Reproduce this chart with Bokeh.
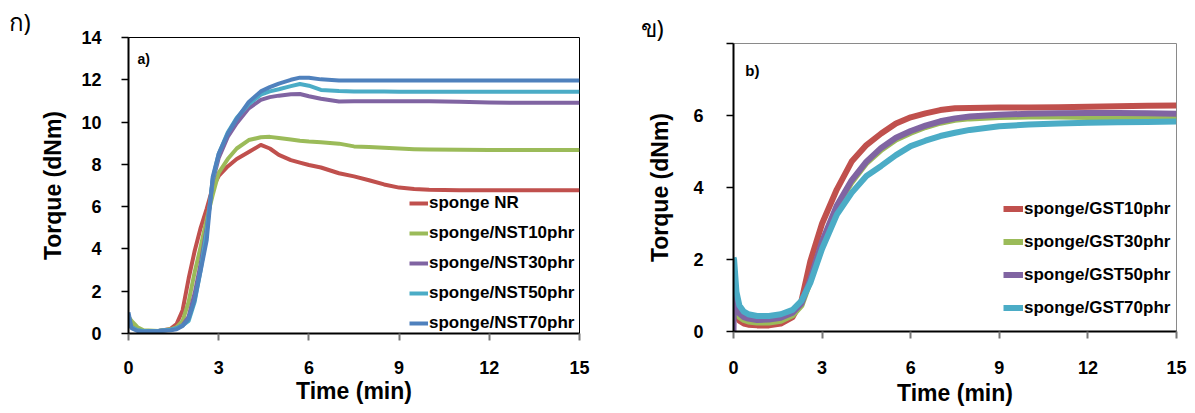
from bokeh.plotting import figure
from bokeh.models import Legend, LegendItem, Label, FixedTicker, Range1d
from bokeh.layouts import row
from bokeh.embed import file_html
from bokeh.resources import INLINE

# ---- (a) natural-rubber sponge with NST filler ----
t_a = [0, 0.1, 0.3, 0.5, 1.0, 1.4, 1.6, 1.8, 2.0, 2.2, 2.4, 2.6, 2.8, 3.0, 3.3, 3.6,
       4.0, 4.4, 4.7, 5.0, 5.4, 5.7, 6.0, 6.4, 7.0, 7.5, 8.0, 8.5, 9.0, 9.5, 10.0,
       11.0, 12.0, 13.0, 14.0, 15.0]
nr = [0.6, 0.4, 0.2, 0.1, 0.12, 0.22, 0.45, 1.1, 2.6, 3.9, 5.0, 5.9, 6.9, 7.45, 7.9, 8.25,
      8.58, 8.92, 8.75, 8.45, 8.2, 8.08, 7.97, 7.85, 7.58, 7.43, 7.25, 7.05, 6.9, 6.83, 6.8,
      6.78, 6.78, 6.78, 6.78, 6.78]
nst10 = [0.8, 0.6, 0.3, 0.15, 0.12, 0.2, 0.3, 0.6, 1.5, 2.9, 4.1, 5.4, 6.55, 7.6, 8.25, 8.75,
         9.15, 9.28, 9.3, 9.25, 9.18, 9.12, 9.08, 9.04, 8.98, 8.85, 8.82, 8.78, 8.75, 8.72, 8.7,
         8.69, 8.68, 8.68, 8.68, 8.68]
nst30 = [0.5, 0.3, 0.15, 0.1, 0.12, 0.18, 0.25, 0.4, 0.8, 1.9, 3.3, 5.0, 7.2, 8.3, 9.3, 9.95,
         10.65, 11.05, 11.18, 11.25, 11.32, 11.33, 11.22, 11.1, 10.97, 10.98, 10.99, 10.99, 10.99,
         10.99, 10.99, 10.96, 10.92, 10.91, 10.91, 10.91]
nst50 = [0.7, 0.3, 0.15, 0.12, 0.13, 0.18, 0.25, 0.38, 0.6, 1.5, 3.0, 4.8, 7.3, 8.5, 9.5, 10.2,
         10.85, 11.3, 11.45, 11.55, 11.7, 11.8, 11.72, 11.52, 11.47, 11.45, 11.45, 11.45, 11.44,
         11.44, 11.44, 11.43, 11.43, 11.43, 11.43, 11.43]
nst70 = [1.0, 0.25, 0.12, 0.1, 0.12, 0.15, 0.2, 0.35, 0.7, 1.6, 2.97, 4.4, 7.4, 8.5, 9.45, 10.15,
         10.95, 11.45, 11.65, 11.82, 12.0, 12.1, 12.1, 12.02, 11.97, 11.97, 11.97, 11.97, 11.97,
         11.97, 11.97, 11.97, 11.97, 11.97, 11.97, 11.97]
names_a = ["sponge NR", "sponge/NST10phr", "sponge/NST30phr", "sponge/NST50phr", "sponge/NST70phr"]
series_a = [nr, nst10, nst30, nst50, nst70]
colors_a = ["#C0504D", "#9BBB59", "#8064A2", "#4BACC6", "#4F81BD"]
yticks_a = [0, 2, 4, 6, 8, 10, 12, 14]

# ---- (b) sponge with GST filler ----
t_b = [0, 0.02, 0.1, 0.2, 0.35, 0.5, 0.8, 1.2, 1.6, 2.0, 2.3, 2.6, 3.0, 3.5, 4.0, 4.5, 5.0,
       5.5, 6.0, 6.5, 7.0, 7.5, 8.0, 9.0, 10.0, 11.0, 12.0, 13.0, 14.0, 15.0]
gst10 = [0.9, 0.8, 0.45, 0.3, 0.22, 0.19, 0.17, 0.17, 0.22, 0.4, 0.85, 1.95, 3.0, 3.95, 4.72,
         5.18, 5.5, 5.78, 5.95, 6.06, 6.15, 6.2, 6.21, 6.22, 6.22, 6.23, 6.24, 6.26, 6.27, 6.28]
gst30 = [1.0, 0.9, 0.55, 0.4, 0.32, 0.28, 0.25, 0.25, 0.3, 0.45, 0.72, 1.4, 2.45, 3.45, 4.15,
         4.68, 5.05, 5.33, 5.52, 5.68, 5.8, 5.88, 5.92, 5.96, 5.97, 5.97, 5.96, 5.95, 5.94, 5.94]
gst50 = [0.0, 1.3, 0.75, 0.5, 0.4, 0.36, 0.32, 0.33, 0.38, 0.52, 0.78, 1.45, 2.5, 3.5, 4.2,
         4.72, 5.1, 5.38, 5.57, 5.72, 5.84, 5.92, 5.97, 6.02, 6.05, 6.06, 6.07, 6.07, 6.06, 6.05]
gst70 = [2.05, 2.0, 1.1, 0.72, 0.55, 0.48, 0.43, 0.43, 0.48, 0.6, 0.85, 1.35, 2.3, 3.25, 3.85,
         4.32, 4.6, 4.9, 5.15, 5.3, 5.43, 5.52, 5.6, 5.7, 5.75, 5.78, 5.8, 5.81, 5.82, 5.83]
names_b = ["sponge/GST10phr", "sponge/GST30phr", "sponge/GST50phr", "sponge/GST70phr"]
series_b = [gst10, gst30, gst50, gst70]
colors_b = ["#C0504D", "#9BBB59", "#8064A2", "#4BACC6"]
yticks_b = [0, 2, 4, 6, 8]

xticks = [0, 3, 6, 9, 12, 15]
FONT = "Liberation Sans"


def style_axes(p, y_ticks, outline_color, tick_size, title_size, y_title_standoff):
    p.xaxis.ticker = FixedTicker(ticks=xticks)
    p.yaxis.ticker = FixedTicker(ticks=y_ticks)
    p.xgrid.visible = False
    p.ygrid.visible = False
    p.outline_line_color = outline_color
    p.outline_line_width = 1
    for ax in (p.xaxis[0], p.yaxis[0]):
        ax.axis_line_color = "black"
        ax.axis_line_width = 2
        ax.major_label_text_font = FONT
        ax.major_label_text_font_style = "bold"
        ax.major_label_text_font_size = tick_size
        ax.major_label_text_color = "black"
        ax.axis_label_text_font = FONT
        ax.axis_label_text_font_style = "bold"
        ax.axis_label_text_font_size = title_size
        ax.axis_label_text_color = "black"
        ax.minor_tick_line_color = None
        ax.major_tick_in = 0
        ax.major_tick_out = 7
    p.xaxis.major_tick_line_color = "#777777"
    p.xaxis.major_tick_line_width = 2
    p.yaxis.major_tick_line_color = "black"
    p.yaxis.major_tick_line_width = 1.5
    p.yaxis.axis_label_standoff = y_title_standoff
    p.xaxis.axis_label = "Time (min)"
    p.yaxis.axis_label = "Torque (dNm)"


def panel_tag(p, text, offset):
    # Thai panel tag set as the figure title, pushed left into the margin
    p.title.text = text
    p.title.align = "left"
    p.title.offset = offset
    p.title.standoff = 0
    p.title.vertical_align = "bottom"
    p.title.text_font = "Noto Sans"
    p.title.text_font_style = "normal"
    p.title.text_font_size = "24px"
    p.title.text_color = "black"


# ---------- panel a ----------
pa = figure(width=600, height=413, output_backend="svg", toolbar_location=None,
            x_range=Range1d(0, 15), y_range=Range1d(0, 14), frame_align=False,
            min_border_left=128, min_border_right=21, min_border_top=37, min_border_bottom=80)
pa.background_fill_color = "white"
pa.border_fill_color = "white"
style_axes(pa, yticks_a, "black", "18px", "23px", 12)
pa.yaxis.major_label_standoff = 20
pa.xaxis.major_label_standoff = 20
pa.xaxis.axis_label_standoff = 1
panel_tag(pa, "ก)", -120)

items_a = []
for name, ys, col in zip(names_a, series_a, colors_a):
    r = pa.line(t_a, ys, line_color=col, line_width=4, line_join="round")
    items_a.append(LegendItem(label=name, renderers=[r]))
leg_a = Legend(items=items_a, location=(281, 0), glyph_width=19, glyph_height=20,
               label_height=20, label_standoff=1, spacing=10, padding=0, margin=0,
               border_line_alpha=0, background_fill_alpha=0,
               label_text_font=FONT, label_text_font_style="bold",
               label_text_font_size="17px", label_text_color="black")
pa.add_layout(leg_a)
pa.add_layout(Label(x=0.3, y=12.97, text="a)", text_font=FONT, text_font_style="bold",
                    text_font_size="14px", text_baseline="middle", text_color="black"))

# ---------- panel b ----------
pb = figure(width=595, height=413, output_backend="svg", toolbar_location=None,
            x_range=Range1d(0, 15), y_range=Range1d(0, 8), frame_align=False,
            min_border_left=133, min_border_right=19, min_border_top=43, min_border_bottom=82)
pb.background_fill_color = "white"
pb.border_fill_color = "white"
style_axes(pb, yticks_b, "#8a8a8a", "18px", "23px", 17)
pb.yaxis.major_label_standoff = 23
pb.xaxis.major_label_standoff = 22
pb.xaxis.axis_label_standoff = 3
pb.yaxis.major_label_overrides = {8: ""}
panel_tag(pb, "ข)", -93)

items_b = []
for name, ys, col in zip(names_b, series_b, colors_b):
    r = pb.line(t_b, ys, line_color=col, line_width=6, line_join="round")
    items_b.append(LegendItem(label=name, renderers=[r]))
leg_b = Legend(items=items_b, location=(270, 13), glyph_width=20, glyph_height=21,
               label_height=21, label_standoff=1, spacing=12, padding=0, margin=0,
               border_line_alpha=0, background_fill_alpha=0,
               label_text_font=FONT, label_text_font_style="bold",
               label_text_font_size="17px", label_text_color="black")
pb.add_layout(leg_b)
pb.add_layout(Label(x=0.4, y=7.25, text="b)", text_font=FONT, text_font_style="bold",
                    text_font_size="15px", text_baseline="middle", text_color="black"))

layout = row(pa, pb)
open("out.html", "w").write(file_html(layout, INLINE))
